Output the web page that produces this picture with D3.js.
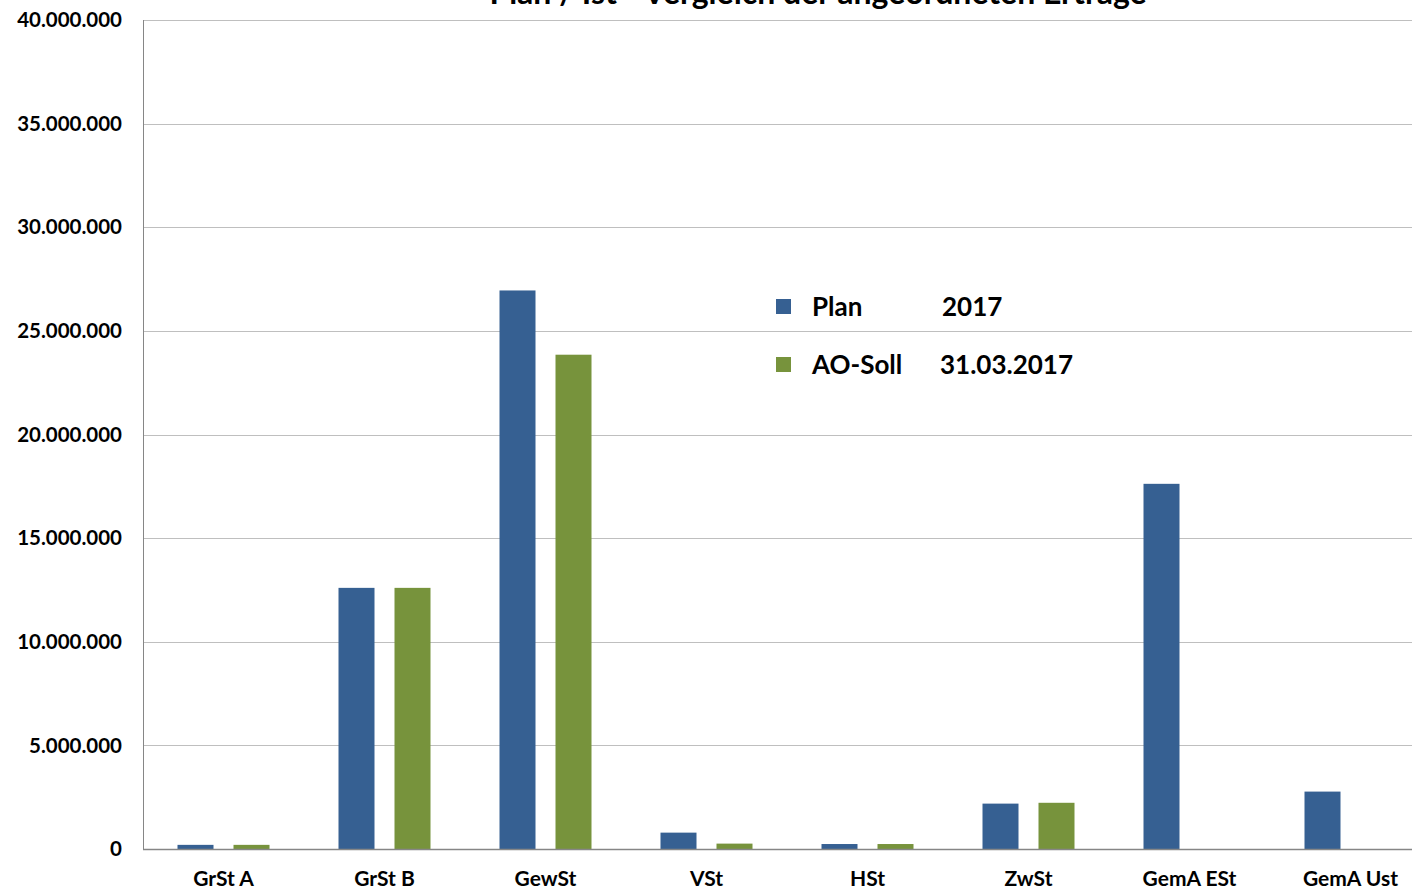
<!DOCTYPE html>
<html>
<head>
<meta charset="utf-8">
<script src="https://cdn.jsdelivr.net/npm/d3@7"></script>
<style>
  body { margin: 0; background: #fff; }
  svg text { font-family: Lato, "Open Sans", sans-serif; font-weight: bold; fill: #000; }
</style>
</head>
<body>
<div id="chart"></div>
<script>
// data
const categories = ['GrSt A', 'GrSt B', 'GewSt', 'VSt', 'HSt', 'ZwSt', 'GemA ESt', 'GemA Ust'];
const planValues = [200000, 12600000, 26950000, 790000, 240000, 2190000, 17620000, 2770000];
const sollValues = [200000, 12600000, 23850000, 260000, 240000, 2230000, 0, 0];
const seriesNames = ['Plan', 'AO-Soll'];
const seriesDates = ['2017', '31.03.2017'];
const yTicks = [0, 5000000, 10000000, 15000000, 20000000, 25000000, 30000000, 35000000, 40000000];

const width = 1412, height = 890;
const margin = { top: 20, right: -19, bottom: 41, left: 143 };
const colors = ['#366092', '#77933c'];

const svg = d3.select('#chart')
  .append('svg')
  .attr('width', width)
  .attr('height', height);

const x = d3.scaleBand()
  .domain(categories)
  .range([margin.left, width - margin.right]);

const y = d3.scaleLinear()
  .domain([0, 40000000])
  .range([height - margin.bottom, margin.top]);

const fmt = v => d3.format(',')(v).replace(/,/g, '.');

// gridlines
svg.append('g')
  .selectAll('line')
  .data(yTicks.slice(1))
  .join('line')
  .attr('x1', margin.left)
  .attr('x2', width - margin.right)
  .attr('y1', d => Math.round(y(d)) + 0.5)
  .attr('y2', d => Math.round(y(d)) + 0.5)
  .attr('stroke', '#bfbfbf')
  .attr('stroke-width', 1);

// y labels
svg.append('g')
  .selectAll('text')
  .data(yTicks)
  .join('text')
  .attr('x', 122)
  .attr('y', d => y(d))
  .attr('dy', '0.35em')
  .attr('text-anchor', 'end')
  .style('font-size', '20.5px')
  .text(d => fmt(d));

// bars
const barW = 36, gap = 20;
const x0 = d => x(d) + (x.bandwidth() - (2 * barW + gap)) / 2;
const series = [planValues, sollValues];

series.forEach((vals, s) => {
  svg.append('g')
    .selectAll('rect')
    .data(categories.map((c, i) => ({ c, v: vals[i] })).filter(d => d.v > 0))
    .join('rect')
    .attr('x', d => x0(d.c) + s * (barW + gap))
    .attr('y', d => y(d.v))
    .attr('width', barW)
    .attr('height', d => y(0) - y(d.v))
    .attr('fill', colors[s]);
});

// axes lines
svg.append('line')
  .attr('x1', margin.left + 0.5).attr('x2', margin.left + 0.5)
  .attr('y1', margin.top).attr('y2', y(0))
  .attr('stroke', '#868686');
svg.append('line')
  .attr('x1', margin.left).attr('x2', width - margin.right)
  .attr('y1', Math.round(y(0)) + 0.5).attr('y2', Math.round(y(0)) + 0.5)
  .attr('stroke', '#868686').attr('stroke-width', 1.5);

// x labels
svg.append('g')
  .selectAll('text')
  .data(categories)
  .join('text')
  .attr('x', d => x(d) + x.bandwidth() / 2)
  .attr('y', 879)
  .attr('dy', '0.35em')
  .attr('text-anchor', 'middle')
  .style('font-size', '21px')
  .text(d => d);

// title (cut off at top, as in the original)
svg.append('text')
  .attr('x', 818)
  .attr('y', 4)
  .attr('text-anchor', 'middle')
  .style('font-size', '32px')
  .text('Plan / Ist - Vergleich der  angeordneten Erträge');

// legend
const legend = svg.append('g');
seriesNames.forEach((name, i) => {
  const ly = 307 + i * 58;
  legend.append('rect')
    .attr('x', 776).attr('y', ly - 8)
    .attr('width', 15).attr('height', 15)
    .attr('fill', colors[i]);
  legend.append('text')
    .attr('x', 812).attr('y', ly).attr('dy', '0.35em')
    .style('font-size', '26px')
    .text(name);
  legend.append('text')
    .attr('x', i === 0 ? 942 : 940).attr('y', ly).attr('dy', '0.35em')
    .style('font-size', '26px')
    .text(seriesDates[i]);
});
</script>
</body>
</html>
